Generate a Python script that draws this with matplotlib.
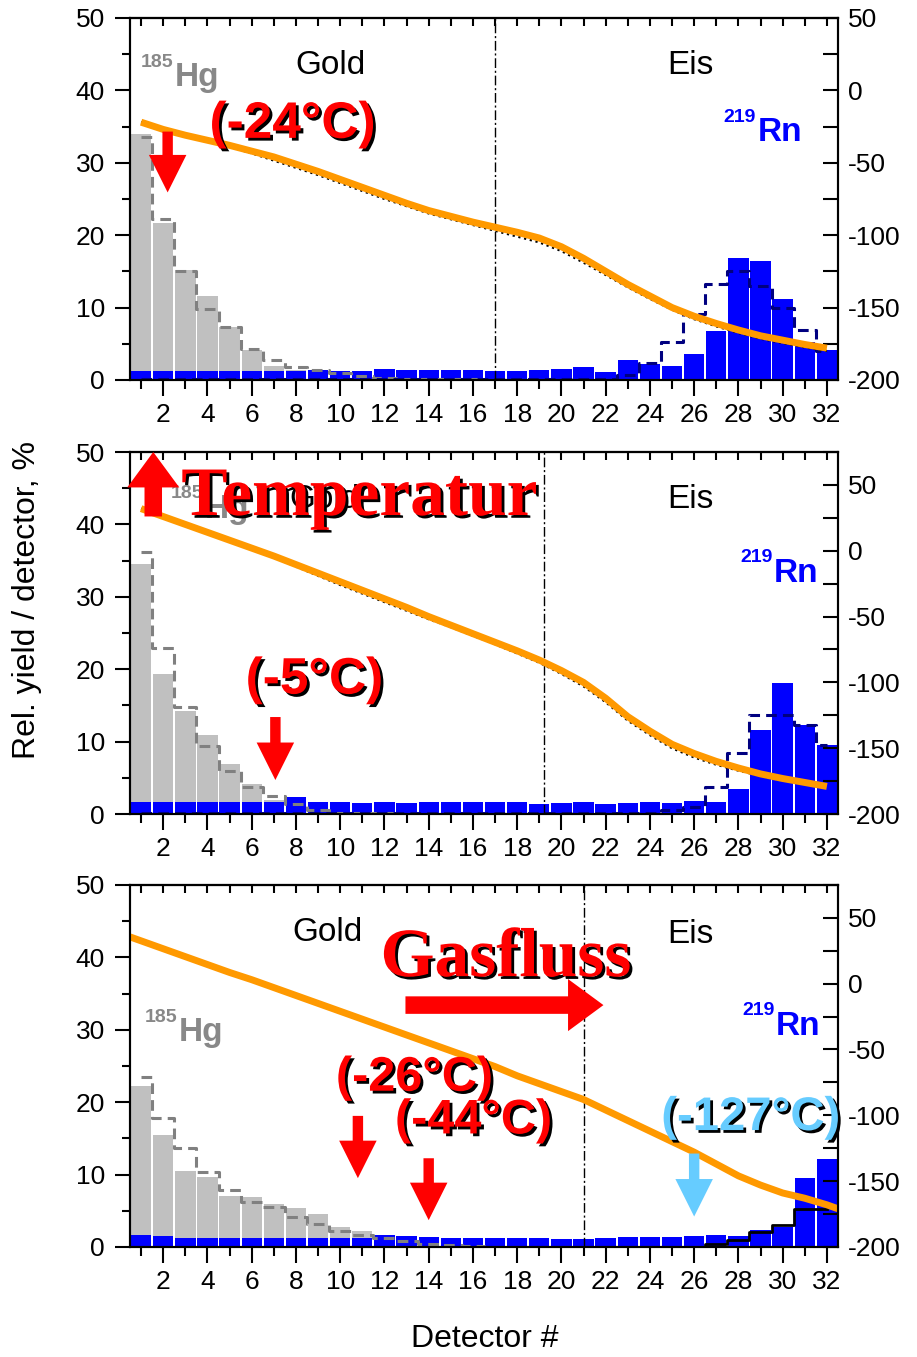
import numpy as np
import matplotlib
matplotlib.use("Agg")
import matplotlib.pyplot as plt
import matplotlib.patheffects as pe
from matplotlib.ticker import MultipleLocator, NullFormatter

plt.rcParams["font.family"] = ["Liberation Sans", "DejaVu Sans"]
plt.rcParams["axes.unicode_minus"] = False

detectors = np.arange(1, 33)

# ---- panel 1 (top) ----
hg_bars_1 = [33.9, 21.7, 15.2, 11.6, 7.3, 4.2, 1.9, 1.4, 0.8, 0.5, 0.3, 0.2, 0.1, 0.1,
             0, 0, 0, 0, 0, 0, 0, 0, 0, 0, 0, 0, 0, 0, 0, 0, 0, 0]
hg_sim_1 = [33.6, 22.2, 15.0, 9.8, 7.3, 4.3, 2.8, 1.85, 1.4, 0.9, 0.5, 0.3, 0.2, 0.1,
            0.1, 0.1, 0, 0, 0, 0, 0, 0, 0, 0, 0, 0, 0, 0, 0, 0, 0, 0]
rn_bars_1 = [1.3, 1.3, 1.3, 1.3, 1.3, 1.3, 1.3, 1.3, 1.35, 1.3, 1.3, 1.5, 1.35, 1.35,
             1.35, 1.35, 1.3, 1.3, 1.4, 1.5, 1.75, 1.15, 2.8, 2.2, 1.9, 3.55, 6.7,
             16.85, 16.4, 11.2, 5.3, 4.15]
rn_sim_1 = [0.1] * 22 + [0.7, 2.4, 5.3, 9.1, 13.3, 15.0, 13.0, 9.9, 6.9, 4.0]
temp_1 = [-22, -27, -31, -34.5, -38, -42, -46, -51, -56, -61.5, -67, -72.5, -78, -83,
          -87, -91, -94.5, -98, -102, -108, -116, -125, -134, -142, -150, -156, -161,
          -165.5, -169.5, -172.5, -175.5, -178]
temp_meas_1 = [-22, -27, -31, -35, -39, -43.5, -48.5, -53.5, -58.5, -64, -69.5, -75,
               -80, -85, -89, -93, -97, -101, -105, -111, -119, -127.5, -136, -144,
               -151.5, -158, -163, -167.5, -171.5, -174.5, -177.5, -180]

# ---- panel 2 (middle) ----
hg_bars_2 = [34.6, 19.3, 14.3, 10.9, 6.9, 4.1, 2.0, 1.0, 0.5, 0.3, 0.2, 0.1,
             0, 0, 0, 0, 0, 0, 0, 0, 0, 0, 0, 0, 0, 0, 0, 0, 0, 0, 0, 0]
hg_sim_2 = [36.2, 22.9, 14.8, 9.4, 5.9, 3.8, 2.5, 1.4, 0.5, 0.2, 0.1, 0.1,
            0, 0, 0, 0, 0, 0, 0, 0, 0, 0, 0, 0, 0, 0, 0, 0, 0, 0, 0, 0]
rn_bars_2 = [1.6, 1.6, 1.6, 1.6, 1.6, 1.6, 1.6, 2.3, 1.7, 1.6, 1.55, 1.6, 1.5, 1.65,
             1.6, 1.65, 1.7, 1.7, 1.45, 1.5, 1.7, 1.35, 1.55, 1.7, 1.55, 1.75, 1.7,
             3.5, 11.6, 18.1, 12.35, 9.6]
rn_sim_2 = [0.1] * 24 + [0.5, 1.0, 3.8, 8.4, 13.7, 13.7, 12.3, 9.5]
temp_2 = [32, 26, 20, 14, 8, 2, -4, -10.5, -17, -23.5, -30, -36.5, -43, -50, -56.5,
          -63, -69.5, -76, -83, -91, -100, -112, -126, -137, -147, -154, -160,
          -165, -169.5, -173, -176, -179]
temp_meas_2 = [32, 26, 20, 14, 8, 1.5, -5, -12, -19, -26, -32.5, -39, -45.5, -52,
               -58, -64.5, -71, -78, -85, -93.5, -103, -115, -129, -140, -150,
               -157, -162.5, -167, -171, -174.5, -177, -180]

# ---- panel 3 (bottom) ----
hg_bars_3 = [22.2, 15.5, 10.5, 9.6, 7.0, 6.9, 6.0, 5.4, 4.6, 2.8, 2.2, 1.4, 0.8, 0.5,
             0.3, 0.2, 0.1, 0, 0, 0, 0, 0, 0, 0, 0, 0, 0, 0, 0, 0, 0, 0]
hg_sim_3 = [23.5, 17.8, 13.7, 10.4, 7.9, 6.2, 5.5, 4.2, 3.2, 2.2, 1.6, 1.2, 0.8, 0.4,
            0.2, 0.1, 0, 0, 0, 0, 0, 0, 0, 0, 0, 0, 0, 0, 0, 0, 0, 0]
rn_bars_3 = [1.65, 1.55, 1.3, 1.3, 1.3, 1.3, 1.3, 1.3, 1.3, 1.2, 1.3, 1.6, 1.55, 1.4,
             1.3, 1.2, 1.2, 1.25, 1.25, 1.1, 1.1, 1.2, 1.35, 1.35, 1.35, 1.45, 1.6,
             1.5, 2.35, 2.8, 9.5, 12.1]
rn_sim_3 = [0] * 26 + [0.4, 1.0, 2.1, 3.0, 5.3, 5.3]
temp_x_3 = [0.5] + list(range(1, 33)) + [32.5]
temp_3 = [35.5, 32.5, 26.5, 20.5, 14.5, 8.5, 3, -3, -9, -15, -21, -27, -33, -39, -45,
          -51, -57, -63, -70, -76, -82, -88, -96, -104, -112, -120, -128, -137, -146,
          -153, -159, -163, -168, -171]

GRAY, BLUE, NAVY, ORANGE = "#c0c0c0", "#0000ff", "#000080", "#ff9900"
RED, LIGHTBLUE = "#ff0000", "#66ccff"
shadow = [pe.withSimplePatchShadow(offset=(2, -2), shadow_rgbFace="black", alpha=1)]

fig = plt.figure(figsize=(9.17, 13.57), dpi=100)


def make_panel(bottom, hg_bars, hg_sim, rn_bars, rn_sim, rn_style, t_x, temp, temp_meas,
               border, t_top):
    ax = fig.add_axes([0.1418, bottom, 0.772, 0.2668])
    ax.bar(detectors, hg_bars, width=0.92, color=GRAY, zorder=1)
    ax.bar(detectors, rn_bars, width=0.92, color=BLUE, zorder=2)
    ax.plot(detectors, hg_sim, drawstyle="steps-mid", color="#808080", lw=2.2,
            linestyle=(0, (3.5, 2)), zorder=3)
    ax.plot(detectors, rn_sim, drawstyle="steps-mid", zorder=3, **rn_style)
    ax.axvline(border, color="black", lw=1, dashes=(7, 2, 1.5, 2), zorder=3)
    ax.set_xlim(0.5, 32.5)
    ax.set_ylim(0, 50)
    ax.xaxis.set_major_locator(MultipleLocator(2))
    ax.xaxis.set_minor_locator(MultipleLocator(1))
    ax.yaxis.set_major_locator(MultipleLocator(10))
    ax.yaxis.set_minor_locator(MultipleLocator(5))
    ax.tick_params(axis="x", which="major", direction="out", length=11.5, width=1.5,
                   labelsize=19, pad=5)
    ax.tick_params(axis="x", which="minor", direction="out", length=6.5, width=1.5)
    ax.tick_params(axis="y", which="major", direction="out", length=11, width=1.5,
                   labelsize=19, pad=7)
    ax.tick_params(axis="y", which="minor", direction="out", length=6, width=1.5)
    for s in ax.spines.values():
        s.set_linewidth(1.5)

    top = ax.secondary_xaxis("top")
    top.xaxis.set_major_locator(MultipleLocator(1))
    top.xaxis.set_major_formatter(NullFormatter())
    top.tick_params(direction="in", length=6, width=1.5)
    top.spines["top"].set_linewidth(1.5)

    ax2 = ax.twinx()
    if temp_meas is not None:
        ax2.plot(t_x, temp_meas, color="black", lw=1.6, linestyle=":")
    ax2.plot(t_x, temp, color=ORANGE, lw=5, solid_capstyle="butt")
    ax2.set_ylim(-200, t_top)
    ax2.yaxis.set_major_locator(MultipleLocator(50))
    ax2.yaxis.set_minor_locator(MultipleLocator(25))
    ax2.tick_params(axis="y", which="both", direction="in", length=11, width=1.5,
                    labelsize=19, pad=7)
    for s in ax2.spines.values():
        s.set_linewidth(1.5)
    return ax, ax2


def isotope(ax2, ax, x, y, mass, symbol, color):
    ax2.text(x, y, symbol, transform=ax.transData, color=color, fontsize=24,
             fontweight="bold", ha="left", va="baseline")
    ax2.annotate(mass, xy=(x, y), xycoords=ax.transData, xytext=(-1, 14),
                 textcoords="offset points", color=color, fontsize=14,
                 fontweight="bold", ha="right", va="baseline")


def label(ax2, ax, x, y, txt, color=RED, size=35):
    ax2.text(x, y, txt, transform=ax.transData, color=color, fontsize=size,
             fontweight="bold", ha="center", va="center", path_effects=shadow)


def arrow(ax2, ax, tail, tip, color=RED, big=False):
    if big:
        style = "simple,head_length=0.85,head_width=1.25,tail_width=0.42"
    else:
        style = "simple,head_length=0.9,head_width=0.9,tail_width=0.25"
    ax2.annotate("", xy=tip, xycoords=ax.transData, xytext=tail,
                 textcoords=ax.transData, annotation_clip=False,
                 arrowprops=dict(arrowstyle=style, color=color, lw=0,
                                 mutation_scale=30, shrinkA=0, shrinkB=0))


navy_dash = dict(color=NAVY, lw=2.2, linestyle=(0, (3.5, 2)))
black_solid = dict(color="black", lw=2)

# panel 1
ax, ax2 = make_panel(0.7200, hg_bars_1, hg_sim_1, rn_bars_1, rn_sim_1, navy_dash,
                     detectors, temp_1, temp_meas_1, 17, 50)
ax2.text(9.56, 43.4, "Gold", transform=ax.transData, fontsize=24, ha="center", va="center")
ax2.text(25.85, 43.4, "Eis", transform=ax.transData, fontsize=24, ha="center", va="center")
isotope(ax2, ax, 2.54, 40.6, "185", "Hg", "#888888")
isotope(ax2, ax, 28.86, 33.0, "219", "Rn", BLUE)
label(ax2, ax, 7.84, 35.3, "(-24°C)", size=37)
arrow(ax2, ax, (2.2, 34.3), (2.2, 25.9))

# panel 2
ax, ax2 = make_panel(0.4001, hg_bars_2, hg_sim_2, rn_bars_2, rn_sim_2, navy_dash,
                     detectors, temp_2, temp_meas_2, 19.2, 75)
ax2.text(9.3, 43.4, "Gold", transform=ax.transData, fontsize=24, ha="center", va="center")
ax2.text(25.85, 43.4, "Eis", transform=ax.transData, fontsize=24, ha="center", va="center")
isotope(ax2, ax, 3.9, 40.9, "185", "Hg", "#888888")
isotope(ax2, ax, 29.6, 32.1, "219", "Rn", BLUE)
ax2.text(10.87, 41.3, "Temperatur", transform=ax.transData, color=RED, fontsize=50,
         fontweight="bold", family="Liberation Serif", ha="center", va="baseline",
         path_effects=shadow)
arrow(ax2, ax, (1.55, 41.1), (1.55, 50.0), big=True)
label(ax2, ax, 8.83, 18.5, "(-5°C)", size=37)
arrow(ax2, ax, (7.07, 13.4), (7.07, 4.7))

# panel 3
ax, ax2 = make_panel(0.0811, hg_bars_3, hg_sim_3, rn_bars_3, rn_sim_3, black_solid,
                     temp_x_3, temp_3, None, 21, 75)
ax2.text(9.42, 43.4, "Gold", transform=ax.transData, fontsize=24, ha="center", va="center")
ax2.text(25.85, 43.1, "Eis", transform=ax.transData, fontsize=24, ha="center", va="center")
isotope(ax2, ax, 2.72, 28.4, "185", "Hg", "#888888")
isotope(ax2, ax, 29.7, 29.3, "219", "Rn", BLUE)
ax2.text(17.5, 37.4, "Gasfluss", transform=ax.transData, color=RED, fontsize=50,
         fontweight="bold", family="Liberation Serif", ha="center", va="baseline",
         path_effects=shadow)
arrow(ax2, ax, (12.95, 33.4), (21.9, 33.4), big=True)
label(ax2, ax, 13.36, 23.3, "(-26°C)", size=35)
label(ax2, ax, 16.03, 17.4, "(-44°C)", size=35)
label(ax2, ax, 28.56, 17.8, "(-127°C)", color=LIGHTBLUE, size=34)
arrow(ax2, ax, (10.8, 18.1), (10.8, 9.5))
arrow(ax2, ax, (14.0, 12.25), (14.0, 3.7))
arrow(ax2, ax, (26.0, 12.9), (26.0, 4.2), color=LIGHTBLUE)

fig.text(0.029, 0.558, "Rel. yield / detector, %", rotation=90, fontsize=23,
         ha="center", va="center")
fig.text(0.529, 0.013, "Detector #", fontsize=23, ha="center", va="center")

fig.savefig("out.png", dpi=100)
